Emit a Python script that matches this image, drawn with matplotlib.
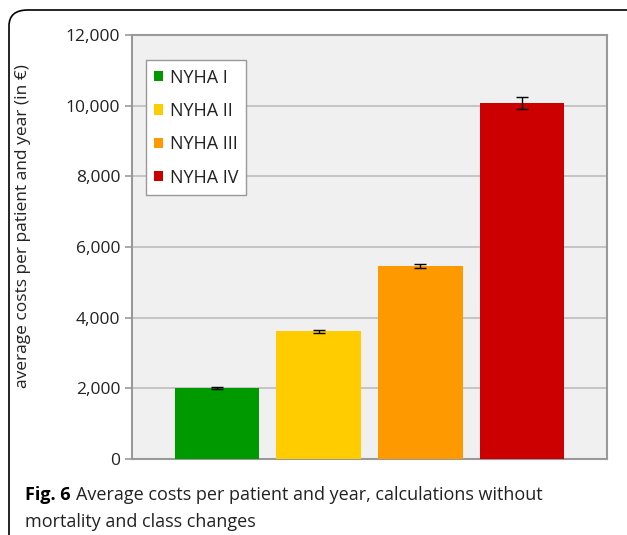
import matplotlib.pyplot as plt
from matplotlib.patches import FancyBboxPatch, Patch

classes = ['NYHA I', 'NYHA II', 'NYHA III', 'NYHA IV']
costs = [2010, 3620, 5450, 10070]
errors = [20, 40, 55, 170]
colors = ['#009900', '#ffcc00', '#ff9900', '#cc0000']

plt.rcParams['font.family'] = ['Open Sans', 'DejaVu Sans']

fig = plt.figure(figsize=(6.27, 5.35), dpi=100)

# rounded frame around the whole figure
frame = FancyBboxPatch((9 / 627, -0.05), 1.2, 1.05 - 10 / 535,
                       boxstyle='round,pad=0,rounding_size=0.03',
                       transform=fig.transFigure, fill=False,
                       edgecolor='black', linewidth=1.2)
fig.patches.append(frame)

ax = fig.add_axes([132 / 627, 1 - 459 / 535, 475 / 627, 424 / 535])
ax.set_facecolor('#f0f0f0')
pos = range(len(classes))
ax.bar(pos, costs, width=0.83, color=colors, zorder=3)
ax.errorbar(pos, costs, yerr=errors, fmt='none', ecolor='black',
            elinewidth=1, capsize=4, capthick=1, zorder=4)

ax.set_xlim(-0.833, 3.833)
ax.set_ylim(0, 12000)
ax.set_yticks(range(0, 12001, 2000))
ax.set_yticklabels([f'{v:,}' for v in range(0, 12001, 2000)], fontsize=12.5,
                   color='#222222')
ax.set_xticks([])
ax.grid(axis='y', color='#bdbdbd', linewidth=1.2, zorder=0)
ax.tick_params(axis='y', length=5, color='#999999', width=1.2)
for spine in ax.spines.values():
    spine.set_color('#999999')
    spine.set_linewidth(1.5)
ax.set_ylabel('average costs per patient and year (in €)', fontsize=12.5,
              color='#222222')
ax.yaxis.set_label_coords(-0.213, 0.55)

handles = [Patch(facecolor=c, label=n) for c, n in zip(colors, classes)]
ax.legend(handles=handles, loc='upper left', bbox_to_anchor=(0.03, 0.94),
          fancybox=False, framealpha=1, edgecolor='#999999',
          handlelength=0.5, handleheight=0.5, handletextpad=0.35,
          labelspacing=0.85, borderpad=0.45, fontsize=13, borderaxespad=0,
          labelcolor='#222222')

# caption: bold "Fig. 6" followed by regular text
bold = fig.text(25 / 627, 1 - 495 / 535, 'Fig. 6', fontsize=13,
                fontweight='bold', va='center', ha='left')
fig.canvas.draw()
bb = bold.get_window_extent()
fig.text((bb.x1 + 5) / fig.bbox.width, 1 - 495 / 535,
         'Average costs per patient and year, calculations without',
         fontsize=13, va='center', ha='left', color='#222222')
fig.text(25 / 627, 1 - 522 / 535, 'mortality and class changes',
         fontsize=13, va='center', ha='left', color='#222222')

fig.savefig('out.png', dpi=100)
